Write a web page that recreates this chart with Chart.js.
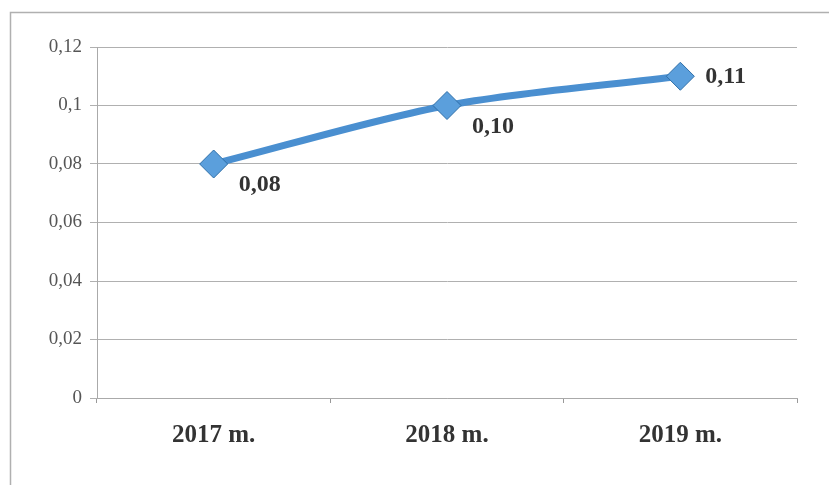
<!DOCTYPE html>
<html>
<head>
<meta charset="utf-8">
<script src="https://cdn.jsdelivr.net/npm/chart.js@4/dist/chart.umd.min.js"></script>
<style>
  html, body { margin: 0; padding: 0; background: #fff; }
  #wrap { width: 829px; height: 485px; position: relative; }
</style>
</head>
<body>
<div id="wrap"><canvas id="chart"></canvas></div>
<script>
const years = ["2017 m.", "2018 m.", "2019 m."];
const values = [0.08, 0.10, 0.11];
const yTicks = [0, 0.02, 0.04, 0.06, 0.08, 0.1, 0.12];

const comma = (v) => String(Number(v.toFixed(2))).replace(".", ",");

// frame round the chart (top and left edges, rest is cut off)
const frame = {
  id: "frame",
  beforeDraw(chart) {
    const c = chart.ctx;
    c.save();
    c.strokeStyle = "#b0b0b0";
    c.lineWidth = 1.5;
    c.beginPath();
    c.moveTo(10.5, 485);
    c.lineTo(10.5, 12.5);
    c.lineTo(829, 12.5);
    c.stroke();
    c.restore();
  }
};

// value labels, last point to the right, others below-right
const valueLabels = {
  id: "valueLabels",
  afterDatasetsDraw(chart) {
    const c = chart.ctx;
    const pts = chart.getDatasetMeta(0).data;
    c.save();
    c.font = "bold 24px 'Liberation Serif'";
    c.fillStyle = "#333";
    c.textBaseline = "middle";
    c.textAlign = "left";
    pts.forEach((p, i) => {
      const dy = i === pts.length - 1 ? 1 : 21;
      c.fillText(values[i].toFixed(2).replace(".", ","), p.x + 25, p.y + dy);
    });
    c.restore();
  }
};

new Chart(document.getElementById("chart"), {
  type: "line",
  data: {
    labels: years,
    datasets: [{
      data: values,
      borderColor: "#4a8fd0",
      borderWidth: 7,
      tension: 0.3,
      pointStyle: "rectRot",
      pointRadius: 14,
      pointHoverRadius: 14,
      pointBackgroundColor: "#5b9fdc",
      pointBorderColor: "#2f6fa8",
      pointBorderWidth: 1
    }]
  },
  options: {
    responsive: true,
    maintainAspectRatio: false,
    animation: false,
    layout: { padding: { top: 47, right: 32, bottom: 16, left: 0 } },
    plugins: { legend: { display: false }, tooltip: { enabled: false } },
    scales: {
      x: {
        offset: true,
        grid: { offset: true, drawOnChartArea: false, color: "#999", tickLength: 5 },
        border: { color: "#aaa" },
        ticks: {
          color: "#333",
          font: { family: "'Liberation Serif'", size: 25, weight: "bold" },
          padding: 18
        }
      },
      y: {
        min: 0,
        max: 0.12,
        afterBuildTicks: (s) => { s.ticks = yTicks.map(v => ({ value: v })); },
        afterFit: (s) => { s.width = 97; },
        grid: { color: "#b0b0b0", lineWidth: 1, tickLength: 7 },
        border: { color: "#aaa", dash: [] },
        ticks: {
          color: "#555",
          font: { family: "'Liberation Serif'", size: 19 },
          padding: 8,
          callback: (v) => comma(v)
        }
      }
    }
  },
  plugins: [frame, valueLabels]
});
</script>
</body>
</html>
